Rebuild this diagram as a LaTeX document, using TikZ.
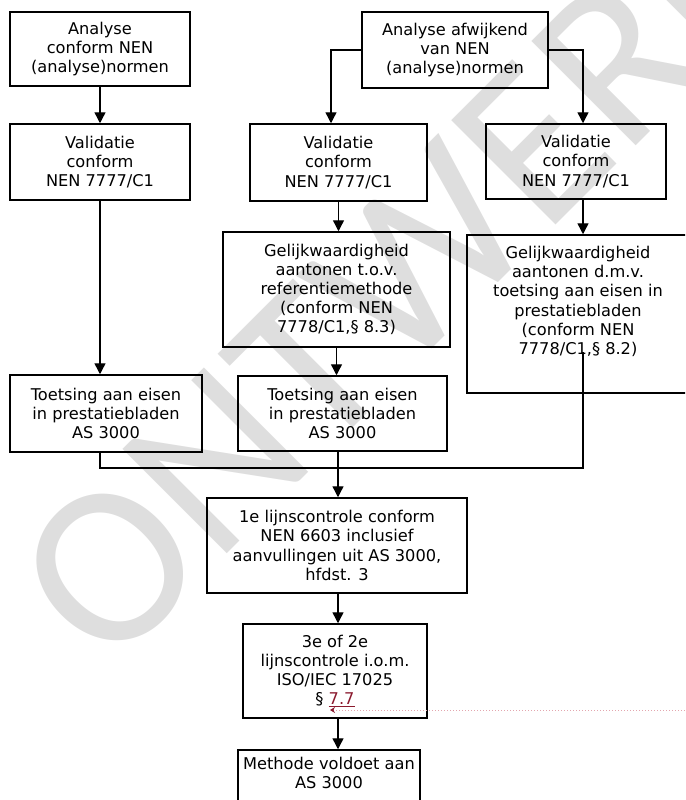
\documentclass[tikz,border=0pt]{standalone}
\usepackage{fontspec}
\setmainfont{DejaVu Sans}
\newfontfamily\wmfont{Carlito}
\usetikzlibrary{arrows.meta}
\definecolor{wmgray}{HTML}{DEDEDE}
\definecolor{trackred}{HTML}{8B1A2E}
\definecolor{trackpink}{HTML}{E3A6AE}
\begin{document}
\begin{tikzpicture}[x=1pt,y=-1pt,
  box/.style={draw, line width=1.5pt, align=center, inner sep=0pt, font=\fontsize{16.2}{19.2}\selectfont},
  boxtext/.style={align=center, inner sep=0pt, font=\fontsize{16.2}{19.2}\selectfont},
  conn/.style={line width=1.4pt},
  arr/.style={conn, -{Triangle[width=11pt,length=11pt]}},
]
\path[use as bounding box] (0,0) rectangle (685,800);
\clip (0,0) rectangle (685,800);
% watermark
\node[text=wmgray, font=\wmfont\fontsize{230}{230}\selectfont, rotate=45, inner sep=0pt] (wm) at (400,277) {ONTWERP};
% boxes
\node[box, minimum width=180, minimum height=74] (a1) at (100,49) {Analyse\\conform NEN\\(analyse)normen};
\node[box, minimum width=180, minimum height=76] (v1) at (100,162) {Validatie\\conform\\NEN 7777/C1};
\node[box, minimum width=186, minimum height=76] (a2) at (455,50) {Analyse afwijkend\\van NEN\\(analyse)normen};
\node[box, minimum width=177, minimum height=77] (v2) at (338.5,162.5) {Validatie\\conform\\NEN 7777/C1};
\node[box, minimum width=180, minimum height=75] (v3) at (576,161.5) {Validatie\\conform\\NEN 7777/C1};
\node[box, minimum width=227, minimum height=115] (g2) at (336.5,289.5) {Gelijkwaardigheid\\aantonen t.o.v.\\referentiemethode\\(conform NEN\\7778/C1,§ 8.3)};
\node[box, minimum width=222, minimum height=158] (g3) at (578,314) {};
\node[boxtext, anchor=north] (g3t) at (578,246) {Gelijkwaardigheid\\aantonen d.m.v.\\toetsing aan eisen in\\prestatiebladen\\(conform NEN\\7778/C1,§ 8.2)};
\node[box, minimum width=192, minimum height=77] (t1) at (106,413.5) {Toetsing aan eisen\\in prestatiebladen\\AS 3000};
\node[box, minimum width=209, minimum height=75] (t2) at (342.5,413.5) {Toetsing aan eisen\\in prestatiebladen\\AS 3000};
\node[box, minimum width=260, minimum height=95] (l1) at (337,545.5) {1e lijnscontrole conform\\NEN 6603 inclusief\\aanvullingen uit AS 3000,\\hfdst. 3};
\node[box, minimum width=184, minimum height=94] (l2) at (335,671) {3e of 2e\\lijnscontrole i.o.m.\\ISO/IEC 17025\\§ \textcolor{trackred}{\underline{7.7}}};
\node[box, minimum width=182, minimum height=80] (l3) at (329,790) {};
\node[boxtext, anchor=north] (l3t) at (329,757) {Methode voldoet aan\\AS 3000};
% connectors
\coordinate (j) at (338,468);
\coordinate (g3o) at (583,352);
\draw[arr] (a1) -- (v1);
\draw[arr] (a2.west) -| ([xshift=-7.5pt]v2.north);
\draw[arr] (a2.east) -| ([xshift=7pt]v3.north);
\draw[arr] (v1.south) -- (v1.south |- t1.north);
\draw[arr] (v2.south) -- (v2.south |- g2.north);
\draw[arr] (g2.south) -- (g2.south |- t2.north);
\draw[arr] ([xshift=7pt]v3.south) -- ([xshift=7pt]v3.south |- g3.north);
\draw[conn] (v1.south |- t1.south) |- (g3o |- j) -- (g3o);
\draw[conn] (t2.south -| j) -- (j);
\draw[arr] (j) -- (j |- l1.north);
\draw[arr] (l1.south -| j) -- (j |- l2.north);
\draw[arr] (l2.south -| j) -- (j |- l3.north);
% track change marker
\coordinate (tc) at (330,710);
\coordinate (tce) at (685,710);
\draw[trackpink, dotted, line width=1pt, {Stealth[length=5pt,width=6pt,trackred]}-] (tc) -- (tce);
\end{tikzpicture}
\end{document}
